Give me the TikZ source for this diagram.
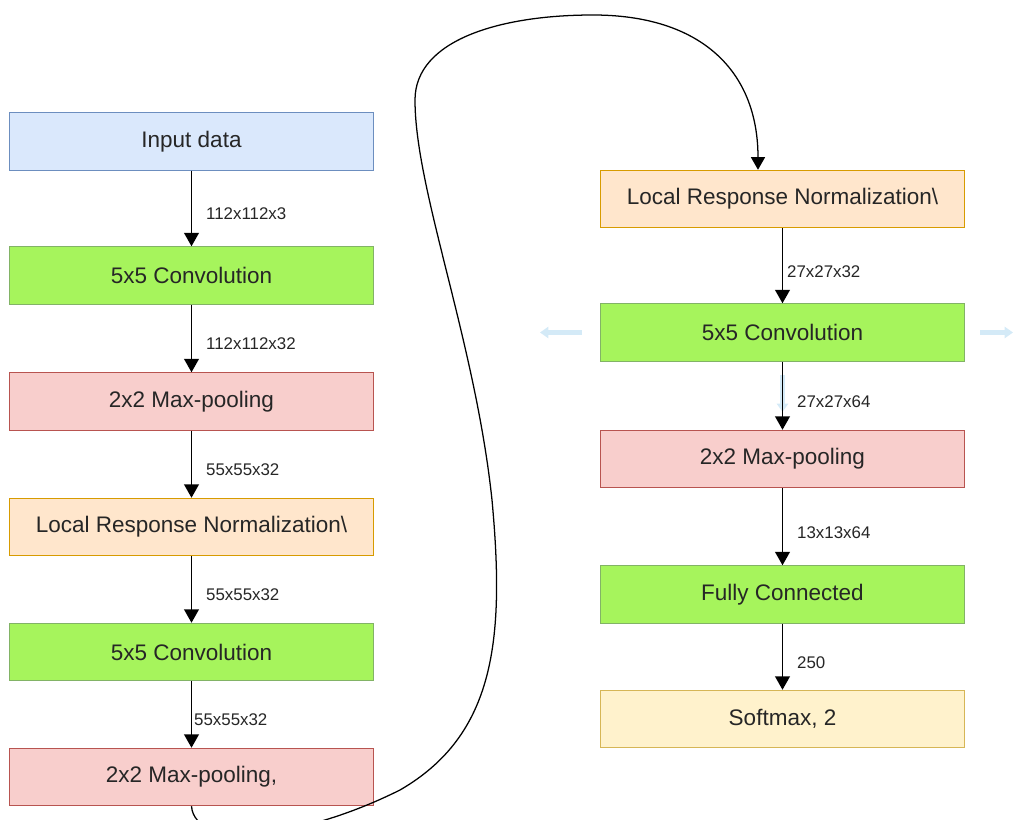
\documentclass[tikz,border=0pt]{standalone}
\usepackage{fontspec}
\setmainfont{Liberation Sans}
\usetikzlibrary{arrows.meta}

\definecolor{inblue}{HTML}{DAE8FC}
\definecolor{inblueline}{HTML}{6C8EBF}
\definecolor{convgreen}{HTML}{A6F45C}
\definecolor{convgreenline}{HTML}{82B366}
\definecolor{poolred}{HTML}{F8CECC}
\definecolor{poolredline}{HTML}{B85450}
\definecolor{lrnorange}{HTML}{FFE6CC}
\definecolor{lrnorangeline}{HTML}{D79B00}
\definecolor{softyellow}{HTML}{FFF2CC}
\definecolor{softyellowline}{HTML}{D6B656}
\definecolor{hintblue}{HTML}{D4EAF7}

\tikzset{
	layer/.style={draw, line width=0.6pt, minimum width=9.1cm, minimum height=1.44cm, inner sep=0pt, font=\fontsize{16}{19}\selectfont, text=black!85},
	inputbox/.style={layer, fill=inblue, draw=inblueline},
	convbox/.style={layer, fill=convgreen, draw=convgreenline},
	poolbox/.style={layer, fill=poolred, draw=poolredline},
	lrnbox/.style={layer, fill=lrnorange, draw=lrnorangeline},
	softbox/.style={layer, fill=softyellow, draw=softyellowline},
	flow/.style={-{Triangle[width=10.5pt,length=9.5pt]}, line width=1pt},
	dims/.style={font=\fontsize{12}{14}\selectfont, anchor=west, inner sep=0pt, text=black!85, yshift=-0.14cm}
}

\begin{document}
\begin{tikzpicture}[x=0.025cm, y=-0.025cm]
	\useasboundingbox (0,0) rectangle (1013,820);

	% left column
	\node[inputbox] (in) at (191.5,141.5) {Input data};
	\node[convbox] (convA) at (191.5,275.5) {5x5 Convolution};
	\node[poolbox] (poolA) at (191.5,401.5) {2x2 Max-pooling};
	\node[lrnbox] (lrnA) at (191.5,527) {Local Response Normalization\textbackslash};
	\node[convbox] (convB) at (191.5,652) {5x5 Convolution};
	\node[poolbox] (poolB) at (191.5,777) {2x2 Max-pooling,};

	% right column
	\node[lrnbox] (lrnB) at (782.5,199) {Local Response Normalization\textbackslash};
	\node[convbox] (convC) at (782.5,332.5) {5x5 Convolution};
	\node[poolbox] (poolC) at (782.5,459) {2x2 Max-pooling};
	\node[convbox] (fc) at (782.5,594.5) {Fully Connected};
	\node[softbox] (soft) at (782.5,719) {Softmax, 2};

	% faint hover arrows
	\draw[-{Triangle[width=8pt,length=6pt]}, hintblue, line width=3pt] (582,332.5) -- (540,332.5);
	\draw[-{Triangle[width=8pt,length=6pt]}, hintblue, line width=3pt] (980,332.5) -- (1013,332.5);
	\draw[-{Triangle[width=8pt,length=6pt]}, hintblue, line width=3pt] (782.5,375) -- (782.5,412);

	\draw[flow] (in) -- (convA) node[dims, midway, xshift=0.35cm] {112x112x3};
	\draw[flow] (convA) -- (poolA) node[dims, midway, xshift=0.35cm] {112x112x32};
	\draw[flow] (poolA) -- (lrnA) node[dims, midway, xshift=0.35cm] {55x55x32};
	\draw[flow] (lrnA) -- (convB) node[dims, midway, xshift=0.35cm] {55x55x32};
	\draw[flow] (convB) -- (poolB) node[dims, midway, xshift=0.05cm] {55x55x32};

	\draw[flow] (lrnB) -- (convC) node[dims, midway, xshift=0.1cm] {27x27x32};
	\draw[flow] (convC) -- (poolC) node[dims, midway, xshift=0.35cm] {27x27x64};
	\draw[flow] (poolC) -- (fc) node[dims, midway, xshift=0.35cm] {13x13x64};
	\draw[flow] (fc) -- (soft) node[dims, midway, xshift=0.35cm] {250};

	% link between the two columns
	\draw[-{Triangle[width=10pt,length=9pt]}, line width=0.9pt]
		(poolB.south) .. controls (195,850) and (300,840) .. (400,790)
		.. controls (495,735) and (505,640) .. (492,500)
		.. controls (475,340) and (415,190) .. (415,100)
		.. controls (415,40) and (500,15) .. (593,15)
		.. controls (700,15) and (758,70) .. (lrnB.north -| 758,0);
\end{tikzpicture}
\end{document}
